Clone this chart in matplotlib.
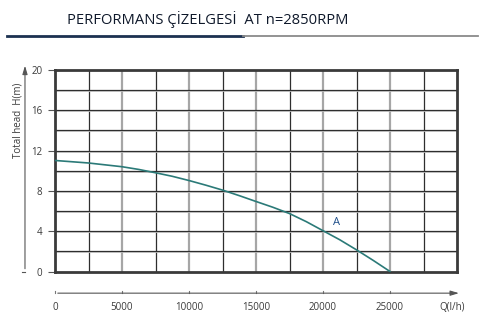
import matplotlib.pyplot as plt
import numpy as np
from matplotlib.lines import Line2D

# pump curve A, Q in l/h, H in m
flow = [0, 2500, 5000, 6250, 7500, 8750, 10000, 11250, 12500, 13750, 15000,
        16250, 17500, 18750, 20000, 21250, 22500, 23750, 25000]
head = [11.02, 10.77, 10.4, 10.13, 9.8, 9.45, 9.03, 8.57, 8.08, 7.53, 6.95,
        6.38, 5.75, 4.95, 4.05, 3.15, 2.15, 1.1, 0.0]
curve_label = "A"
label_pos = (21030, 4.87)

x_ticks = [0, 5000, 10000, 15000, 20000, 25000]
y_ticks = [0, 4, 8, 12, 16, 20]

title = "PERFORMANS ÇİZELGESİ  AT n=2850RPM"

W, H = 483, 332
fig = plt.figure(figsize=(W / 100, H / 100), dpi=100)
plt.rcParams['font.family'] = ['Open Sans', 'DejaVu Sans']

def fx(px):
    return px / W

def fy(py):
    return 1 - py / H

# title and the two-tone rule under it
fig.text(fx(67), fy(20), title, fontsize=10.6, color="#0e182a", va="center", ha="left")
fig.add_artist(Line2D([fx(7), fx(243)], [fy(36), fy(36)], color="#1c3150", lw=2))
fig.add_artist(Line2D([fx(243), fx(478)], [fy(36), fy(36)], color="#8a8a8a", lw=1.3))

ax = fig.add_axes([fx(55), fy(271.5), fx(457) - fx(55), fy(70) - fy(271.5)])
ax.set_xlim(0, 30000)
ax.set_ylim(0, 20)

# grid: gray lines every 5000, dark lines in between, dark horizontals
for q in np.arange(2500, 30000, 2500):
    if q % 5000 == 0:
        ax.axvline(q, color="#a6a6a6", lw=1.6, zorder=1)
    else:
        ax.axvline(q, color="#2e2e2e", lw=0.9, zorder=1)
for h in np.arange(2, 20, 2):
    ax.axhline(h, color="#2e2e2e", lw=0.9, zorder=1)
    ax.axhline(h - 0.09, color="#b5b5b5", lw=0.6, zorder=1)

for s in ax.spines.values():
    s.set_color("#3a3a3a")
    s.set_linewidth(2)

ax.plot(flow, head, color="#2b7a78", lw=1.2, zorder=3)
ax.text(label_pos[0], label_pos[1], curve_label, color="#1f4f8a", fontsize=8, ha="center", va="center")

ax.set_xticks(x_ticks)
ax.set_xticklabels([])
ax.tick_params(axis="x", length=0)
ax.set_yticks(y_ticks)
ax.set_yticklabels([str(v) for v in y_ticks], fontsize=7, color="#3a3a3a")
ax.tick_params(axis="y", length=5, width=0.8, color="#555555", pad=4)

# separate flow axis below the grid
ax.annotate("", xy=(30350, -2.15), xytext=(0, -2.15), xycoords="data",
            arrowprops=dict(arrowstyle="-|>,head_length=0.5,head_width=0.15", color="#555555", lw=0.8),
            annotation_clip=False)
for q in x_ticks:
    ax.plot([q, q], [-2.15, -1.9], color="#777777", lw=0.8, clip_on=False)
    ax.text(q, -3.6, str(q), fontsize=7, color="#3a3a3a", ha="center", va="center", clip_on=False)
ax.text(29650, -3.6, "Q(l/h)", fontsize=7, color="#3a3a3a", ha="center", va="center", clip_on=False)

# head axis on the left
ax.annotate("", xy=(-2240, 20.7), xytext=(-2240, 0), xycoords="data",
            arrowprops=dict(arrowstyle="-|>,head_length=0.5,head_width=0.15", color="#555555", lw=0.8),
            annotation_clip=False)
ax.plot([-2240, -2450], [0, 0], color="#555555", lw=0.8, clip_on=False)
fig.text(fx(18), fy(120), "Total head  H(m)", rotation=90, fontsize=7, color="#3a3a3a",
         ha="center", va="center")

fig.savefig("out.png", dpi=100)
